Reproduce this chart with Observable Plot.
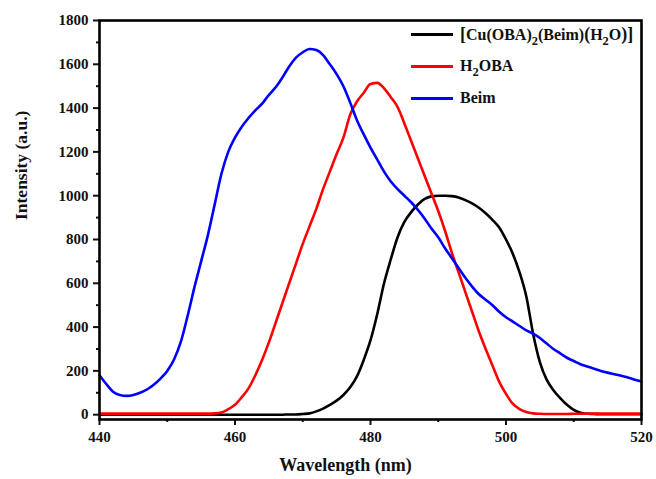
<!DOCTYPE html>
<html>
<head>
<meta charset="utf-8">
<script src="https://cdn.jsdelivr.net/npm/d3@7"></script>
<script src="https://cdn.jsdelivr.net/npm/@observablehq/plot@0.6"></script>
<style>
  html, body { margin: 0; padding: 0; background: #fff; }
  #wrap { position: relative; width: 656px; height: 479px; font-family: "Liberation Serif", "Times New Roman", serif; }
  #legend { position: absolute; left: 411px; top: 18px; font-weight: bold; font-size: 16px; color: #111; }
  .row { display: flex; align-items: center; height: 32px; }
  .sw { width: 42px; height: 0; border-top: 3px solid; margin-right: 7px; }
  sub { font-size: 0.78em; vertical-align: -0.4em; line-height: 0; }
  .big { font-size: 1.12em; }
</style>
</head>
<body>
<div id="wrap"><div id="legend"></div></div>
<script>
const wavelengths = [440,441,442,443,444,445,446,447,448,449,450,451,452,453,454,455,456,457,458,459,460,461,462,463,464,465,466,467,468,469,470,471,472,473,474,475,476,477,478,479,480,481,482,483,484,485,486,487,488,489,490,491,492,493,494,495,496,497,498,499,500,501,502,503,504,505,506,507,508,509,510,511,512,513,514,515,516,517,518,519,520];

const complexVals = [0,0,0,0,0,0,0,0,0,0,0,0,0,0,0,0,0,0,0,0,0,0,0,0,0,0,0,0,1,1,3,6,15,28,45,64,90,125,175,250,340,460,600,710,810,880,925,960,985,997,1000,1000,998,992,980,965,945,920,890,855,800,735,650,540,370,240,160,112,76,45,22,9,4,3,2,2,2,2,2,2,2];

const h2obaVals = [5,5,5,5,5,5,5,5,5,5,5,5,5,5,5,5,5,6,10,25,45,80,120,180,250,330,420,510,600,690,780,860,940,1030,1110,1190,1265,1370,1430,1470,1510,1515,1490,1450,1405,1330,1250,1170,1090,1010,930,840,740,650,560,470,380,300,225,150,95,50,25,12,6,4,3,3,3,3,4,4,5,5,5,5,5,5,5,5,5];

const beimVals = [180,140,105,90,86,90,100,115,137,165,200,252,332,450,580,700,820,960,1100,1200,1265,1315,1355,1390,1420,1460,1495,1540,1590,1630,1655,1670,1665,1642,1600,1555,1500,1425,1345,1280,1220,1165,1110,1065,1030,1000,970,935,895,850,810,760,715,670,625,585,550,525,500,470,445,425,405,385,370,350,325,300,280,260,245,230,220,210,200,192,185,178,170,160,152];

const seriesNames = ["[Cu(OBA)2(Beim)(H2O)]", "H2OBA", "Beim"];
const seriesLabelsHtml = ["<span class=\"big\">[</span>Cu(OBA)<sub>2</sub>(Beim)<span class=\"big\">(</span>H<sub>2</sub>O<span class=\"big\">)]</span>", "H<sub>2</sub>OBA", "Beim"];
const seriesColors = ["#000000", "#ff0000", "#0000ff"];
const seriesValues = [complexVals, h2obaVals, beimVals];

const xTicks = [440, 460, 480, 500, 520];
const xMinor = [450, 470, 490, 510];
const yTicks = [0, 200, 400, 600, 800, 1000, 1200, 1400, 1600, 1800];
const yMinor = [100, 300, 500, 700, 900, 1100, 1300, 1500, 1700];

const data = [];
seriesNames.forEach((s, i) => {
  wavelengths.forEach((w, j) => data.push({series: s, x: w, y: seriesValues[i][j]}));
});

const chart = Plot.plot({
  width: 656,
  height: 479,
  marginLeft: 99,
  marginRight: 15,
  marginTop: 20,
  marginBottom: 60,
  style: {fontFamily: "Liberation Serif, serif", fontWeight: "bold", fontSize: "15px", background: "#fff", color: "#111"},
  x: {domain: [440, 520]},
  y: {domain: [-22, 1800]},
  color: {domain: seriesNames, range: seriesColors},
  marks: [
    Plot.line(data, {x: "x", y: "y", z: "series", stroke: "series", strokeWidth: 2.6, curve: "monotone-x"}),
    Plot.axisX({ticks: xTicks, tickSize: 6, tickPadding: 6, tickFormat: d => String(d), strokeWidth: 2, label: null, fontSize: 15}),
    Plot.axisX({ticks: xMinor, tickSize: 3, tickFormat: null, text: null, strokeWidth: 2, label: null}),
    Plot.axisY({ticks: yTicks, tickSize: 6, tickPadding: 5, tickFormat: d => String(d), strokeWidth: 2, label: null, fontSize: 15}),
    Plot.axisY({ticks: yMinor, tickSize: 3, tickFormat: null, text: null, strokeWidth: 2, label: null}),
    Plot.frame({stroke: "#000", strokeWidth: 2.6}),
    Plot.text(["Wavelength (nm)"], {frameAnchor: "bottom", dx: -25, dy: 51, fontSize: 18, fontWeight: "bold", fill: "#111"}),
    Plot.text(["Intensity (a.u.)"], {frameAnchor: "left", dx: -78, rotate: -90, fontSize: 17.5, fontWeight: "bold", fill: "#111"})
  ]
});

const wrap = document.getElementById("wrap");
wrap.insertBefore(chart, wrap.firstChild);

const legend = document.getElementById("legend");
seriesNames.forEach((s, i) => {
  const row = document.createElement("div");
  row.className = "row";
  row.innerHTML = `<div class="sw" style="border-color:${seriesColors[i]}"></div><span>${seriesLabelsHtml[i]}</span>`;
  legend.appendChild(row);
});
</script>
</body>
</html>
